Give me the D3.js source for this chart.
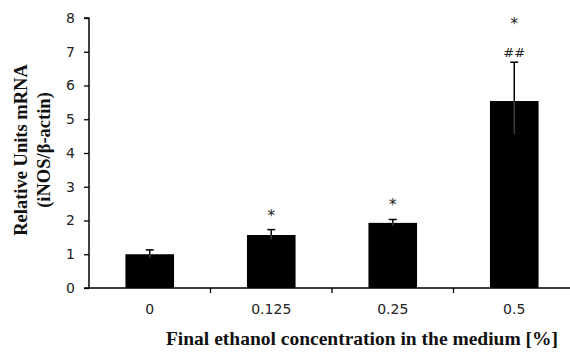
<!DOCTYPE html>
<html>
<head>
<meta charset="utf-8">
<script src="https://cdn.jsdelivr.net/npm/d3@7"></script>
<style>
  body { margin: 0; background: #fff; }
  svg { display: block; }
</style>
</head>
<body>
<div id="chart"></div>
<script>
(function(){
    // Data
    const categories = ["0", "0.125", "0.25", "0.5"];
    const means = [1.0, 1.57, 1.93, 5.54];
    const errors = [0.13, 0.16, 0.1, 1.15];
    const marks = [[], ["*"], ["*"], ["##", "*"]];
    const yTicks = [0, 1, 2, 3, 4, 5, 6, 7, 8];

    const W = 570, H = 352;
    const left = 89, top = 18, bottom = 288;
    const right = left + 4 * 121.5;

    const svg = d3.select("#chart")
        .append("svg")
        .attr("width", W)
        .attr("height", H);

    const x = d3.scaleBand()
        .domain(categories)
        .range([left, right])
        .paddingInner(0.6)
        .paddingOuter(0.3);

    const y = d3.scaleLinear()
        .domain([0, 8])
        .range([bottom, top]);

    const sans = "'DejaVu Sans', Verdana, sans-serif";
    const serif = "'Liberation Serif', 'Times New Roman', serif";

    // Bars
    svg.selectAll(".bar")
        .data(means)
        .enter()
        .append("rect")
        .attr("x", (d, i) => x(categories[i]))
        .attr("y", d => y(d))
        .attr("width", x.bandwidth())
        .attr("height", d => y(0) - y(d))
        .attr("fill", "#000");

    // Error bars
    const cx = i => x(categories[i]) + x.bandwidth() / 2;
    means.forEach((m, i) => {
        svg.append("line")
            .attr("x1", cx(i)).attr("x2", cx(i))
            .attr("y1", y(m - errors[i] * 0.85)).attr("y2", y(m))
            .attr("stroke", "#3a3a3a").attr("stroke-width", 1.5);
        svg.append("line")
            .attr("x1", cx(i)).attr("x2", cx(i))
            .attr("y1", y(m)).attr("y2", y(m + errors[i]))
            .attr("stroke", "#000").attr("stroke-width", 1.5);
        svg.append("line")
            .attr("x1", cx(i) - 4).attr("x2", cx(i) + 4)
            .attr("y1", y(m + errors[i])).attr("y2", y(m + errors[i]))
            .attr("stroke", "#000").attr("stroke-width", 1.5);
    });

    // Significance marks (listed bottom to top)
    marks.forEach((list, i) => {
        const base = y(means[i] + errors[i]);
        let off = 0;
        list.forEach(t => {
            off += (t === "*") ? 9 + (off > 0 ? 19 : 0) : 5;
            svg.append("text")
                .attr("x", cx(i))
                .attr("y", base - off)
                .attr("text-anchor", "middle")
                .style("font-family", sans)
                .style("font-size", t === "*" ? "15px" : "13px")
                .attr("fill", "#222")
                .text(t);
        });
    });

    // Y axis
    const yAxis = svg.append("g")
        .attr("transform", `translate(${left},0)`)
        .call(d3.axisLeft(y).tickValues(yTicks).tickSize(5).tickPadding(9));
    yAxis.select(".domain").attr("stroke-width", 1.5).attr("d", `M-5,${top}H0V${bottom}`);
    yAxis.selectAll(".tick line").attr("stroke-width", 1.3);
    yAxis.selectAll(".tick text")
        .style("font-family", sans)
        .style("font-size", "14px")
        .attr("fill", "#222");

    // X axis
    const xg = svg.append("g");
    xg.append("line")
        .attr("x1", left - 5).attr("x2", right)
        .attr("y1", bottom).attr("y2", bottom)
        .attr("stroke", "#000").attr("stroke-width", 1.5);
    const sep = categories.slice(1).map((c, i) => (x(categories[i]) + x.bandwidth() + x(c)) / 2);
    xg.selectAll(".sep")
        .data(sep)
        .enter()
        .append("line")
        .attr("x1", d => d).attr("x2", d => d)
        .attr("y1", bottom).attr("y2", bottom + 5)
        .attr("stroke", "#000").attr("stroke-width", 1.3);
    xg.selectAll(".xlab")
        .data(categories)
        .enter()
        .append("text")
        .attr("x", d => x(d) + x.bandwidth() / 2)
        .attr("y", 314)
        .attr("text-anchor", "middle")
        .style("font-family", sans)
        .style("font-size", "14px")
        .attr("fill", "#222")
        .text(d => d);

    // Axis titles
    svg.append("text")
        .attr("x", 362)
        .attr("y", 345)
        .attr("text-anchor", "middle")
        .style("font-family", serif)
        .style("font-weight", "bold")
        .style("font-size", "19.5px")
        .attr("fill", "#111")
        .text("Final ethanol concentration in the medium [%]");

    const yt = svg.append("text")
        .attr("transform", "translate(27,150) rotate(-90)")
        .attr("text-anchor", "middle")
        .style("font-family", serif)
        .style("font-weight", "bold")
        .style("font-size", "18.5px")
        .attr("fill", "#111");
    yt.append("tspan").attr("x", 0).attr("y", 0).text("Relative Units mRNA");
    yt.append("tspan").attr("x", 0).attr("y", 23).text("(iNOS/β-actin)");
})();
</script>
</body>
</html>
